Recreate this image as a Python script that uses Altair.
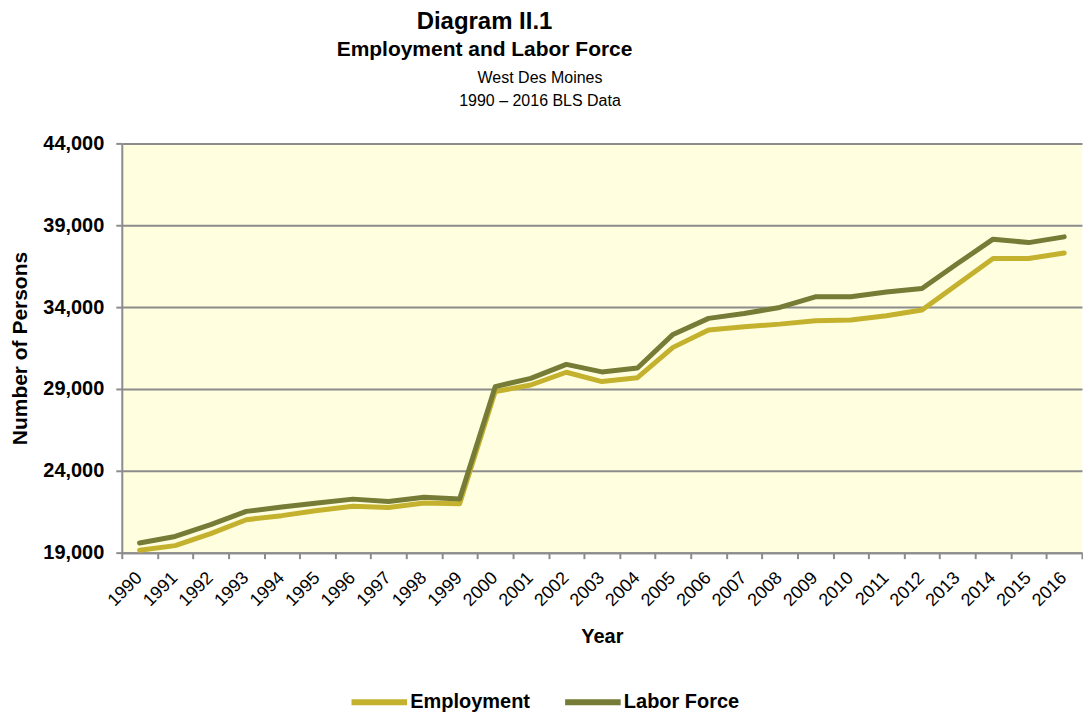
import altair as alt
import pandas as pd

years = [str(y) for y in range(1990, 2017)]
employment = [19150, 19430, 20160, 21010, 21260, 21580, 21830, 21760, 22030, 21990,
              28840, 29240, 30020, 29450, 29690, 31540, 32600, 32800, 32960, 33170,
              33210, 33470, 33820, 35400, 36970, 36970, 37310]
labor_force = [19590, 19990, 20710, 21520, 21790, 22030, 22270, 22130, 22390, 22270,
               29140, 29650, 30500, 30040, 30280, 32330, 33310, 33610, 33980, 34630,
               34630, 34920, 35140, 36660, 38150, 37940, 38290]
series = ["Employment", "Labor Force"]
colors = ["#C4B22F", "#767B36"]
y_ticks = [19000, 24000, 29000, 34000, 39000, 44000]

rows = []
for s, vals in zip(series, [employment, labor_force]):
    for yr, v in zip(years, vals):
        rows.append({"Year": yr, "Persons": v, "Series": s})
df = pd.DataFrame(rows)

FONT = "Liberation Sans"
GRID = "#8C8C8C"

inner = alt.Chart(df).mark_line(strokeWidth=5, strokeCap="round", strokeJoin="round").encode(
    x=alt.X("Year:O", sort=years,
            scale=alt.Scale(type="band", paddingInner=0, paddingOuter=0),
            axis=alt.Axis(title="Year", labelAngle=-45, tickBand="extent",
                          labelFont=FONT, labelFontSize=18, labelColor="#000",
                          labelOffset=-7, labelPadding=10,
                          titleFont=FONT, titleFontSize=20, titleFontWeight="bold", titleColor="#000",
                          domainColor=GRID, domainWidth=2, tickColor=GRID, tickWidth=2, tickSize=6,
                          grid=False, titlePadding=17)),
    y=alt.Y("Persons:Q",
            scale=alt.Scale(domain=[19000, 44000], nice=False, zero=False),
            axis=alt.Axis(title="Number of Persons", values=y_ticks, format=",.0f",
                          labelFont=FONT, labelFontSize=20, labelFontWeight="bold", labelColor="#000",
                          titleFont=FONT, titleFontSize=21, titleFontWeight="bold", titleColor="#000",
                          domainColor=GRID, domainWidth=2, tickColor=GRID, tickWidth=2, tickSize=6,
                          gridColor=GRID, gridWidth=2, labelPadding=12, titlePadding=12)),
    color=alt.Color("Series:N", scale=alt.Scale(domain=series, range=colors),
                    legend=alt.Legend(title=None, orient="none", legendX=227, legendY=529,
                                      direction="horizontal", symbolType="stroke",
                                      symbolSize=3100, symbolStrokeWidth=6,
                                      labelFont=FONT, labelFontSize=20, labelFontWeight="bold",
                                      labelColor="#000", columnPadding=22, labelOffset=0)),
).properties(
    width=962, height=410,
    title=alt.Title(["West Des Moines", "1990 – 2016 BLS Data"], font=FONT, fontSize=16,
                    fontWeight="normal", color="#000", lineHeight=24, anchor="middle",
                    dx=-62, offset=24),
)

chart = alt.vconcat(inner, title=alt.Title(
    "Diagram II.1", subtitle="Employment and Labor Force",
    font=FONT, fontSize=24, fontWeight="bold", color="#000",
    subtitleFont=FONT, subtitleFontSize=21, subtitleFontWeight="bold", subtitleColor="#000",
    subtitlePadding=5, anchor="middle", dx=-62, offset=10,
)).properties(
    padding={"left": 1, "top": 1, "right": 0, "bottom": 0},
).configure_view(fill="#FFFFE0", stroke=None)

chart.save("out.html", embed_options={"renderer": "svg", "actions": False})
